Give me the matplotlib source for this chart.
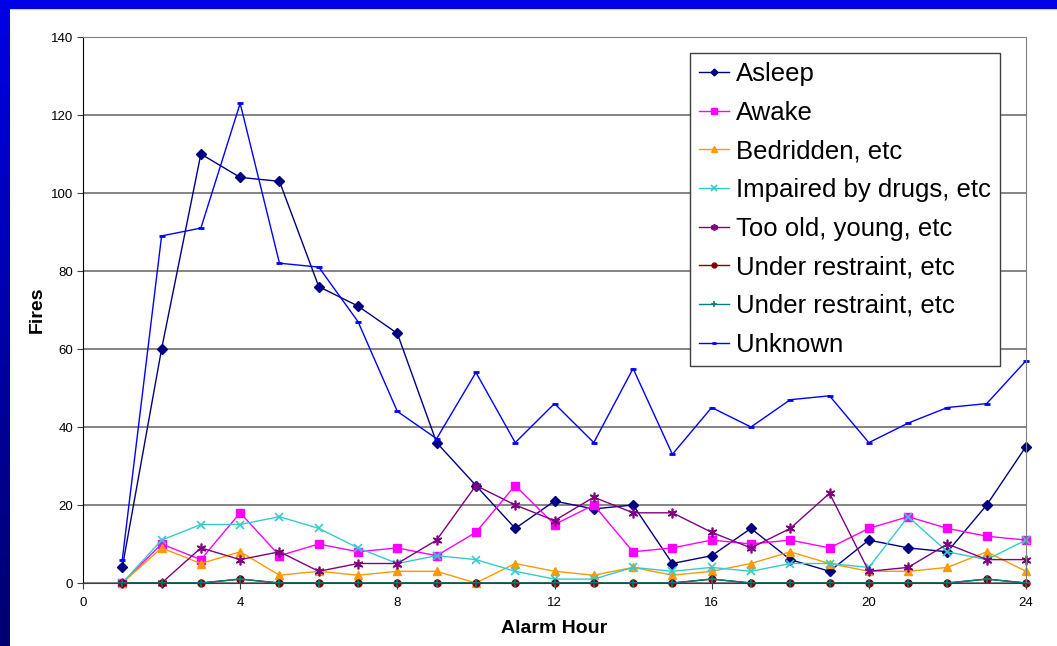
import numpy as np
import matplotlib
matplotlib.use("Agg")
from matplotlib import pyplot as plt

plt.rcParams['font.family'] = ['Liberation Sans', 'DejaVu Sans']

hours = list(range(1, 25))

asleep = [4, 60, 110, 104, 103, 76, 71, 64, 36, 25, 14, 21, 19, 20, 5, 7, 14, 6, 3, 11, 9, 8, 20, 35]
awake = [0, 10, 6, 18, 7, 10, 8, 9, 7, 13, 25, 15, 20, 8, 9, 11, 10, 11, 9, 14, 17, 14, 12, 11]
bedridden = [0, 9, 5, 8, 2, 3, 2, 3, 3, 0, 5, 3, 2, 4, 2, 3, 5, 8, 5, 3, 3, 4, 8, 3]
impaired = [0, 11, 15, 15, 17, 14, 9, 5, 7, 6, 3, 1, 1, 4, 3, 4, 3, 5, 5, 4, 17, 8, 6, 11]
too_old = [0, 0, 9, 6, 8, 3, 5, 5, 11, 25, 20, 16, 22, 18, 18, 13, 9, 14, 23, 3, 4, 10, 6, 6]
restraint_a = [0, 0, 0, 1, 0, 0, 0, 0, 0, 0, 0, 0, 0, 0, 0, 1, 0, 0, 0, 0, 0, 0, 1, 0]
restraint_b = [0, 0, 0, 1, 0, 0, 0, 0, 0, 0, 0, 0, 0, 0, 0, 1, 0, 0, 0, 0, 0, 0, 1, 0]
unknown = [6, 89, 91, 123, 82, 81, 67, 44, 37, 54, 36, 46, 36, 55, 33, 45, 40, 47, 48, 36, 41, 45, 46, 57]

labels = ['Asleep', 'Awake', 'Bedridden, etc', 'Impaired by drugs, etc',
          'Too old, young, etc', 'Under restraint, etc', 'Under restraint, etc', 'Unknown']

fig = plt.figure(figsize=(10.57, 6.46), dpi=100, facecolor='white')

# slide frame: blue band on top, gradient strip down the left side
bg = fig.add_axes([0, 0, 1, 1], zorder=-5)
bg.set_axis_off()
bg.set_xlim(0, 1057)
bg.set_ylim(646, 0)
grad = np.linspace(0, 1, 256).reshape(-1, 1)
bg.imshow(grad, cmap=matplotlib.colors.LinearSegmentedColormap.from_list('b', ['#0000e6', '#000070']),
          extent=[0, 10, 646, 0], aspect='auto')
bg.fill_between([0, 1057], 0, 8, color='#0000e6')

ax = fig.add_axes([83 / 1057, 1 - 583 / 646, (1026 - 83) / 1057, (583 - 37) / 646])

ax.plot(hours, asleep, color='#000080', marker='D', ms=5, lw=1.0, label=labels[0], clip_on=False)
ax.plot(hours, awake, color='#ff00ff', marker='s', ms=6, lw=1.0, label=labels[1], clip_on=False)
ax.plot(hours, bedridden, color='#ff9900', marker='^', ms=6, lw=1.0, label=labels[2], clip_on=False)
ax.plot(hours, impaired, color='#33cccc', marker='x', ms=6, mew=1.2, lw=1.0, label=labels[3], clip_on=False)
ax.plot(hours, too_old, color='#800080', marker=(6, 2, 0), ms=7, mew=1.2, lw=1.0, label=labels[4], clip_on=False)
ax.plot(hours, restraint_a, color='#800000', marker='o', ms=5, lw=1.0, label=labels[5], clip_on=False)
ax.plot(hours, restraint_b, color='#008080', marker='+', ms=6, mew=1.2, lw=1.0, label=labels[6], clip_on=False)
ax.plot(hours, unknown, color='#0000ff', marker='_', ms=5, mew=2, lw=1.0, label=labels[7], clip_on=False)

ax.set_xlim(0, 24)
ax.set_ylim(0, 140)
ax.set_xticks(range(0, 25, 4))
ax.set_yticks(range(0, 141, 20))
ax.tick_params(labelsize=9.5, length=4, color='#404040', pad=3)
ax.tick_params(axis='x', pad=6)
ax.yaxis.grid(True, color='#707070', lw=1.2)
ax.set_axisbelow(True)
for s in ['top', 'right']:
    ax.spines[s].set_color('#808080')
ax.spines['bottom'].set_color('#404040')
ax.spines['left'].set_color('#000000')

ax.set_xlabel('Alarm Hour', fontsize=14, fontweight='bold', labelpad=8)
ax.set_ylabel('Fires', fontsize=14, fontweight='bold', labelpad=4)

leg = ax.legend(loc='upper left', bbox_to_anchor=((690 - 83) / 943, (583 - 53) / 546), fontsize=18.5,
                frameon=True, fancybox=False, edgecolor='#404040', framealpha=1,
                handlelength=1.15, handletextpad=0.3, labelspacing=0.57, borderpad=0.35,
                borderaxespad=0, markerscale=0.7)
leg.get_frame().set_linewidth(1.0)

fig.savefig('out.png', dpi=100, facecolor=fig.get_facecolor())
